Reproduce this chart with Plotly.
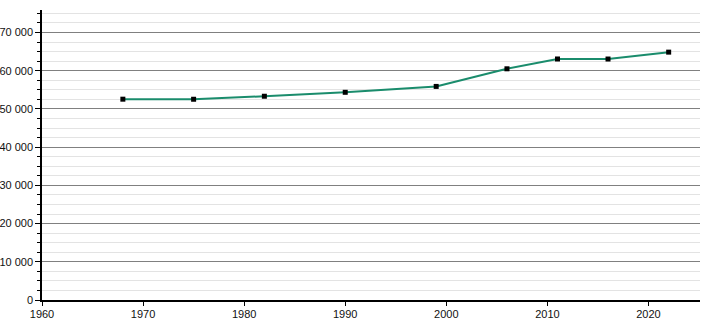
import plotly.graph_objects as go

years = [1968, 1975, 1982, 1990, 1999, 2006, 2011, 2016, 2022]
population = [52560, 52540, 53330, 54360, 55900, 60510, 63080, 63070, 64870]
x_ticks = [1960, 1970, 1980, 1990, 2000, 2010, 2020]
y_ticks = [0, 10000, 20000, 30000, 40000, 50000, 60000, 70000]

fig = go.Figure()
fig.add_trace(go.Scatter(
    x=years, y=population, mode="lines+markers",
    line=dict(color="#1a8c6c", width=2),
    marker=dict(symbol="square", size=5, color="#000000"),
    showlegend=False,
))

fig.update_layout(
    width=710, height=320,
    margin=dict(l=42, r=10, t=10, b=20),
    paper_bgcolor="white", plot_bgcolor="white",
    separators=", ",
    font=dict(family="Liberation Sans, Arial, sans-serif", size=11, color="#111111"),
    xaxis=dict(
        range=[1960, 2025.1], tickvals=x_ticks, showgrid=False, automargin=False,
        showline=True, linecolor="#000000", linewidth=1.5,
        ticks="outside", ticklen=4, tickcolor="#000000", zeroline=False,
        tickfont=dict(color="#111111"), ticklabelstandoff=-1,
    ),
    yaxis=dict(
        range=[0, 75900], tickvals=y_ticks, tickformat=",d", automargin=False,
        showgrid=True, gridcolor="#808080", gridwidth=1,
        showline=True, linecolor="#000000", linewidth=1.5,
        ticks="outside", ticklen=5, tickcolor="#000000", zeroline=False,
        tickfont=dict(color="#111111"),
        minor=dict(dtick=2500, showgrid=True, gridcolor="#e3e3e3", gridwidth=1,
                   ticks="outside", ticklen=3, tickcolor="#000000"),
    ),
)

fig.write_html("out.html")
